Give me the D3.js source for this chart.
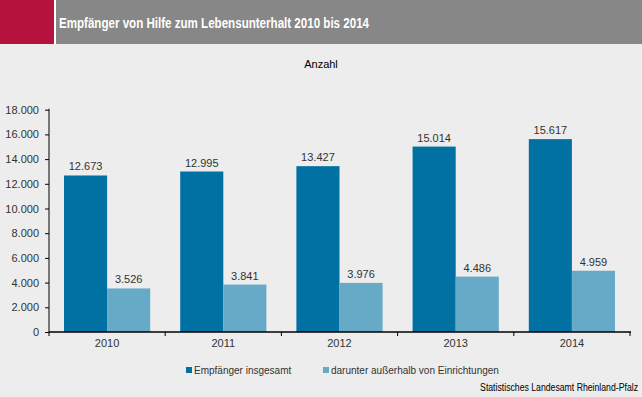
<!DOCTYPE html>
<html>
<head>
<meta charset="utf-8">
<script src="https://cdn.jsdelivr.net/npm/d3@7"></script>
<style>
body { margin: 0; background: #ecedec; }
svg { display: block; font-family: "Liberation Sans", Arial, sans-serif; }
</style>
</head>
<body>
<script>
var w = 642;
var h = 397;

var years = ["2010", "2011", "2012", "2013", "2014"];
var insgesamt = [12673, 12995, 13427, 15014, 15617];
var ausserhalb = [3526, 3841, 3976, 4486, 4959];
var seriesNames = ["Empfänger insgesamt", "darunter außerhalb von Einrichtungen"];
var yTicks = [0, 2000, 4000, 6000, 8000, 10000, 12000, 14000, 16000, 18000];

var colors = ["#0071a2", "#66aac8"];
var fmt = d3.format(",");
function de(v) { return fmt(v).replace(/,/g, "."); }

var svg = d3.select("body")
            .append("svg")
            .attr("width", w)
            .attr("height", h);

svg.append("rect").attr("width", w).attr("height", h).style("fill", "#ecedec");

// header
svg.append("rect").attr("x", 0).attr("y", 0).attr("width", 54).attr("height", 44).style("fill", "#b5123e");
svg.append("rect").attr("x", 54).attr("y", 0).attr("width", 2).attr("height", 44).style("fill", "#ffffff");
svg.append("rect").attr("x", 56).attr("y", 0).attr("width", w - 56).attr("height", 44).style("fill", "#878787");
svg.append("text")
   .attr("x", 59)
   .attr("y", 28)
   .attr("textLength", 310)
   .attr("lengthAdjust", "spacingAndGlyphs")
   .text("Empfänger von Hilfe zum Lebensunterhalt 2010 bis 2014")
   .style("font-weight", "bold")
   .style("font-size", "14px")
   .style("fill", "#ffffff");

svg.append("text")
   .attr("x", 321)
   .attr("y", 68)
   .attr("text-anchor", "middle")
   .text("Anzahl")
   .style("font-size", "11px")
   .style("fill", "#000");

var plotLeft = 49, plotRight = 630, plotTop = 109.7, plotBottom = 332;

var xScale = d3.scaleBand()
               .domain(years)
               .range([plotLeft, plotRight]);
var inner = d3.scaleBand()
              .domain([0, 1])
              .range([15, xScale.bandwidth() - 15]);
var yScale = d3.scaleLinear()
               .domain([0, 18000])
               .range([plotBottom, plotTop]);

// bars
var sets = [insgesamt, ausserhalb];
sets.forEach(function(data, s) {
    var g = svg.append("g");
    g.selectAll("rect")
     .data(data)
     .enter()
     .append("rect")
     .attr("x", function(d, i) { return xScale(years[i]) + inner(s); })
     .attr("y", function(d) { return yScale(d); })
     .attr("width", inner.bandwidth())
     .attr("height", function(d) { return plotBottom - yScale(d); })
     .style("fill", colors[s]);
    g.selectAll("text")
     .data(data)
     .enter()
     .append("text")
     .attr("x", function(d, i) { return xScale(years[i]) + inner(s) + inner.bandwidth() / 2; })
     .attr("y", function(d) { return yScale(d) - 5; })
     .attr("text-anchor", "middle")
     .text(function(d) { return de(d); })
     .style("font-size", "11px")
     .style("fill", "#333");
});

// y axis
var yAxis = d3.axisLeft(yScale).tickValues(yTicks).tickSize(4).tickPadding(6).tickFormat(de);
var gy = svg.append("g").attr("transform", "translate(" + plotLeft + ",0)").call(yAxis);
gy.select(".domain").attr("d", "M0," + (plotTop - 1) + "V" + plotBottom).style("stroke", "#000");
gy.selectAll("line").style("stroke", "#000");
gy.selectAll("text").style("font-size", "11px").style("fill", "#333").style("font-family", "'Liberation Sans', Arial, sans-serif");

// x axis
var gx = svg.append("g").attr("transform", "translate(0," + plotBottom + ")");
gx.append("line").attr("x1", plotLeft).attr("x2", plotRight + 1).attr("y1", 0).attr("y2", 0).style("stroke", "#000").style("stroke-width", 1.5);
gx.selectAll("line.tk")
  .data(years.concat(["end"]))
  .enter()
  .append("line")
  .attr("class", "tk")
  .attr("x1", function(d, i) { return i < years.length ? xScale(d) : plotRight; })
  .attr("x2", function(d, i) { return i < years.length ? xScale(d) : plotRight; })
  .attr("y1", 0)
  .attr("y2", 4)
  .style("stroke", "#000");
gx.selectAll("text")
  .data(years)
  .enter()
  .append("text")
  .attr("x", function(d) { return xScale(d) + xScale.bandwidth() / 2; })
  .attr("y", 15)
  .attr("text-anchor", "middle")
  .text(function(d) { return d; })
  .style("font-size", "11px")
  .style("fill", "#333");

// legend
var legX = [186, 323];
seriesNames.forEach(function(name, s) {
    svg.append("rect").attr("x", legX[s]).attr("y", 367).attr("width", 6).attr("height", 6).style("fill", colors[s]);
    svg.append("text")
       .attr("x", legX[s] + 8)
       .attr("y", 374)
       .text(name)
       .style("font-size", "10px")
       .style("fill", "#333");
});

// source, squeezed like a narrow font
svg.append("text")
   .attr("transform", "translate(638,391) scale(0.87,1)")
   .attr("text-anchor", "end")
   .text("Statistisches Landesamt Rheinland-Pfalz")
   .style("font-size", "10px")
   .style("fill", "#000");
</script>
</body>
</html>
